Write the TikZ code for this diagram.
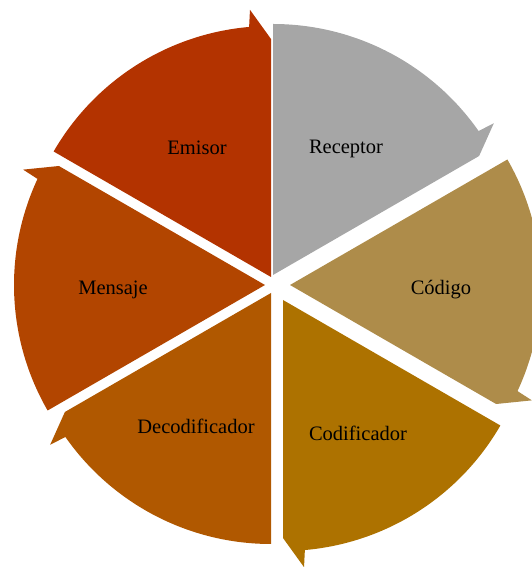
\documentclass[tikz,border=0pt]{standalone}
\usepackage{fontspec}
\setmainfont{Liberation Serif}
\usepackage{tikz}
\usepackage{xcolor}
\usetikzlibrary{positioning}
\definecolor{emisorred}{HTML}{B33300}
\definecolor{mensajebrown}{HTML}{B24500}
\definecolor{decoorange}{HTML}{B05800}
\definecolor{codigold}{HTML}{AD7200}
\definecolor{codigotan}{HTML}{AE8C4A}
\definecolor{receptorgray}{HTML}{A6A6A6}
\tikzset{
  seglabel/.style={font=\fontsize{20.5}{24}\selectfont, text=black, inner sep=0pt}
}

\begin{document}
\begin{tikzpicture}[x=1pt,y=1pt]
        \useasboundingbox (0,0) rectangle (531,567);
        % each part: vertex x, vertex y, end angle, colour
        \foreach \vx/\vy/\b/\col in {271/290/90/emisorred, 273/292/30/receptorgray,
            290/282/-30/codigotan, 283/267/-90/codigold,
            271/274/-150/decoorange, 265/282/150/mensajebrown}{
          \begin{scope}[shift={(\vx,\vy)}]
            \fill[\col] (0,0) -- (\b+60:251pt) arc[start angle=\b+60, end angle=\b+5, radius=251pt]
              -- (\b+4.5:268pt) -- (\b:238pt) -- cycle;
          \end{scope}
        }
        \node[seglabel] (emisor) at (197,419) {Emisor};
        \node[seglabel] (receptor) at (346,418) {Receptor};
        \node[seglabel] (codigo) at (441,277) {Código};
        \node[seglabel] (codificador) at (358,134) {Codificador};
        \node[seglabel] (decodificador) at (196,141) {Decodificador};
        \node[seglabel] (mensaje) at (113,277) {Mensaje};
      \end{tikzpicture}
\end{document}
